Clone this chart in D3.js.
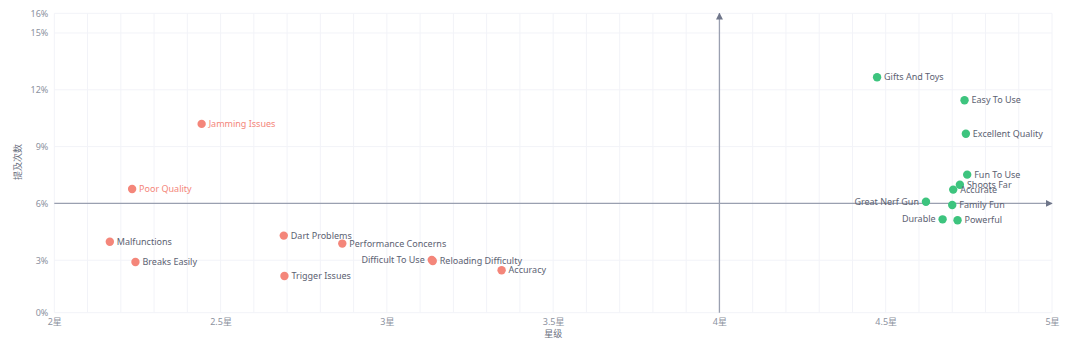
<!DOCTYPE html>
<html><head><meta charset="utf-8">
<script src="https://cdn.jsdelivr.net/npm/d3@7"></script>
<style>
html,body{margin:0;padding:0;background:#fff;}
svg{display:block;font-family:"Noto Sans","Noto Sans CJK SC",sans-serif;}
</style></head>
<body>
<svg id="chart" width="1080" height="353"></svg>
<script>
// ---- data ----
const negNames = ["Jamming Issues","Poor Quality","Malfunctions","Breaks Easily","Dart Problems","Performance Concerns","Trigger Issues","Difficult To Use","Reloading Difficulty","Accuracy"];
const negStars = [2.443,2.234,2.167,2.244,2.690,2.866,2.692,3.135,3.138,3.345];
const negShare = [10.20,6.76,3.98,2.91,4.30,3.88,2.17,3.02,2.96,2.47];
const posNames = ["Gifts And Toys","Easy To Use","Excellent Quality","Fun To Use","Shoots Far","Accurate","Great Nerf Gun","Family Fun","Durable","Powerful"];
const posStars = [4.474,4.737,4.741,4.745,4.723,4.703,4.621,4.700,4.671,4.716];
const posShare = [12.66,11.45,9.68,7.52,6.99,6.73,6.09,5.92,5.16,5.11];
const leftLabelNames = ["Difficult To Use","Great Nerf Gun","Durable"];
const xTickValues = [2,2.5,3,3.5,4,4.5,5];
const xTickLabels = ["2星","2.5星","3星","3.5星","4星","4.5星","5星"];
const yTickValues = [0.23,3,6,9,12,15,16.04];
const yTickLabels = ["0%","3%","6%","9%","12%","15%","16%"];
const xTitle = "星级", yTitle = "提及次数";
const midStar = 4, midShare = 6;

// ---- layout ----
const svg = d3.select("#chart");
const L = 54.3, R = 1052, T = 13.3, B = 312.7;
const x = d3.scaleLinear().domain([2,5]).range([L,R]);
const y = d3.scaleLinear().domain([0.23,16.04]).range([B,T]);
const gridColor = "#f2f3f8", axisTxt = "#8c92a0", lineColor = "#9aa0b0";
const red = "#f4867a", green = "#3dc47e", labelGray = "#5c6272";

// vertical minor grid every 0.1 star
const vg = d3.range(20,51).map(d=>d/10);
svg.append("g").selectAll("line").data(vg).join("line")
  .attr("x1",d=>x(d)).attr("x2",d=>x(d)).attr("y1",T).attr("y2",B)
  .attr("stroke",gridColor).attr("stroke-width",1);
// horizontal grid at y ticks
svg.append("g").selectAll("line").data(yTickValues).join("line")
  .attr("x1",L).attr("x2",R).attr("y1",d=>y(d)).attr("y2",d=>y(d))
  .attr("stroke",gridColor).attr("stroke-width",1);

// axes (labels only)
const xAxis = d3.axisBottom(x).tickValues(xTickValues)
  .tickFormat((d,i)=>xTickLabels[i]).tickSize(0).tickPadding(6);
const gx = svg.append("g").attr("transform",`translate(0,${B})`).call(xAxis);
gx.select(".domain").remove();
gx.selectAll("text").attr("fill",axisTxt).style("font-size","9px").style("font-family","'Noto Sans','Noto Sans CJK SC',sans-serif");
const yAxis = d3.axisLeft(y).tickValues(yTickValues)
  .tickFormat((d,i)=>yTickLabels[i]).tickSize(0).tickPadding(6);
const gy = svg.append("g").attr("transform",`translate(${L},0)`).call(yAxis);
gy.select(".domain").remove();
gy.selectAll("text").attr("fill",axisTxt).style("font-size","9px").style("font-family","'Noto Sans','Noto Sans CJK SC',sans-serif");

// axis titles
svg.append("text").attr("x",(x(3.5))).attr("y",337).attr("text-anchor","middle")
  .attr("fill","#6b7080").style("font-size","9px").text(xTitle);
svg.append("text").attr("transform",`translate(21,${(T+B)/2 - 1}) rotate(-90)`)
  .attr("text-anchor","middle").attr("fill","#6b7080").style("font-size","9px").text(yTitle);

// quadrant cross lines with arrows
const defs = svg.append("defs");
defs.append("marker").attr("id","arr").attr("viewBox","0 0 10 10").attr("refX",9).attr("refY",5)
  .attr("markerWidth",7).attr("markerHeight",7).attr("markerUnits","userSpaceOnUse").attr("orient","auto")
  .append("path").attr("d","M0,0L10,5L0,10Z").attr("fill","#6f768a");
svg.append("line").attr("x1",x(midStar)).attr("x2",x(midStar)).attr("y1",B).attr("y2",T)
  .attr("stroke",lineColor).attr("stroke-width",1.3).attr("marker-end","url(#arr)");
svg.append("line").attr("x1",L).attr("x2",R).attr("y1",y(midShare)).attr("y2",y(midShare))
  .attr("stroke",lineColor).attr("stroke-width",1.3).attr("marker-end","url(#arr)");

// points
function series(names, stars, share, color){
  const data = names.map((n,i)=>({name:n, sx:stars[i], sy:share[i]}));
  const g = svg.append("g");
  g.selectAll("circle").data(data).join("circle")
    .attr("cx",d=>x(d.sx)).attr("cy",d=>y(d.sy)).attr("r",4.2).attr("fill",color);
  g.selectAll("text").data(data).join("text")
    .attr("x",d=>leftLabelNames.includes(d.name) ? x(d.sx)-7 : x(d.sx)+7)
    .attr("y",d=>y(d.sy)).attr("dy","0.35em")
    .attr("text-anchor",d=>leftLabelNames.includes(d.name)?"end":"start")
    .attr("fill",d=>(d.sx<midStar && d.sy>midShare) ? color : labelGray)
    .style("font-size","9px").text(d=>d.name);
}
series(negNames, negStars, negShare, red);
series(posNames, posStars, posShare, green);
</script>
</body></html>
